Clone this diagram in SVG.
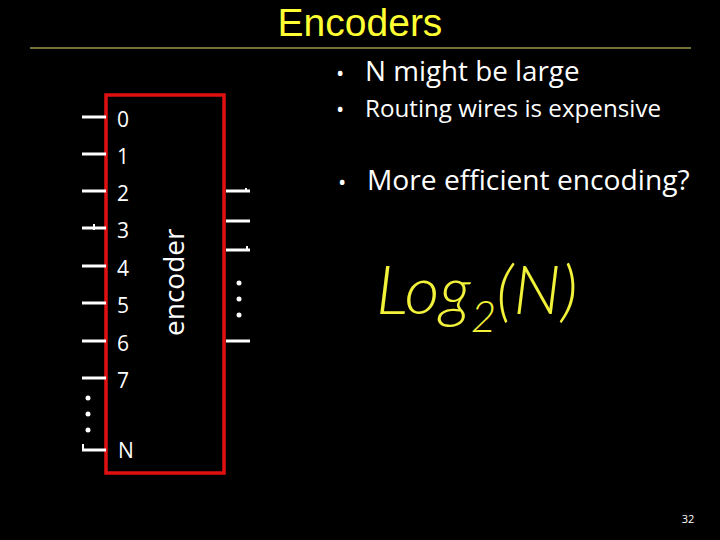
<svg xmlns="http://www.w3.org/2000/svg" width="720" height="540" viewBox="0 0 720 540">
<style>
.lbl{font-family:"Open Sans","Liberation Sans",sans-serif;fill:#fff}
.pin{stroke:#fff;stroke-width:3;fill:none}
.dot{fill:#fff}
.bul{font-family:"Open Sans","Liberation Sans",sans-serif;fill:#fff}
</style>
<rect x="0" y="0" width="720" height="540" fill="#000"/>
<g id="title">
<text x="360" y="36" text-anchor="middle" font-family="Liberation Sans, Arial, sans-serif" font-size="39" fill="#ffff33">Encoders</text>
<line x1="30" y1="48" x2="691" y2="48" stroke="#e8e070" stroke-width="1.2"/>
</g>
<g id="encoder">
<rect x="106" y="95" width="118" height="378" fill="none" stroke="#e01010" stroke-width="3.5"/>
<text class="lbl" font-size="28" transform="translate(184,336) rotate(-90)">encoder</text>
</g>
<g id="inputs">
<g class="pin">
<line x1="82" y1="117" x2="106" y2="117"/>
<line x1="82" y1="154" x2="106" y2="154"/>
<line x1="82" y1="191" x2="106" y2="191"/>
<line x1="82" y1="228" x2="106" y2="228"/>
<line x1="94" y1="224" x2="94" y2="230" stroke-width="2"/>
<line x1="82" y1="266" x2="106" y2="266"/>
<line x1="82" y1="303" x2="106" y2="303"/>
<line x1="82" y1="341" x2="106" y2="341"/>
<line x1="82" y1="378" x2="106" y2="378"/>
<line x1="82" y1="450" x2="106" y2="450"/>
<line x1="83" y1="444" x2="83" y2="450" stroke-width="2"/>
</g>
<circle class="dot" cx="88" cy="398" r="2.5"/>
<circle class="dot" cx="88" cy="414" r="2.5"/>
<circle class="dot" cx="88" cy="430" r="2.5"/>
<g class="lbl" font-size="21">
<text x="117" y="127">0</text>
<text x="117" y="164">1</text>
<text x="117" y="201">2</text>
<text x="117" y="238">3</text>
<text x="117" y="276">4</text>
<text x="117" y="313">5</text>
<text x="117" y="351">6</text>
<text x="117" y="388">7</text>
<text x="118" y="458">N</text>
</g>
</g>
<g id="outputs">
<g class="pin">
<line x1="226" y1="191" x2="250" y2="191"/>
<line x1="246" y1="188" x2="246" y2="192" stroke-width="2"/>
<line x1="226" y1="221" x2="250" y2="221"/>
<line x1="226" y1="250" x2="250" y2="250"/>
<line x1="247" y1="246" x2="247" y2="251" stroke-width="2"/>
<line x1="226" y1="341" x2="250" y2="341"/>
</g>
<circle class="dot" cx="239" cy="283" r="2.5"/>
<circle class="dot" cx="239" cy="299" r="2.5"/>
<circle class="dot" cx="239" cy="315" r="2.5"/>
</g>
<g id="bullets">
<text class="bul" x="336" y="81" font-size="22">•</text>
<text class="bul" x="365" y="81" font-size="27.8">N might be large</text>
<text class="bul" x="336" y="117" font-size="22">•</text>
<text class="bul" x="365" y="117" font-size="24.2">Routing wires is expensive</text>
<text class="bul" x="338" y="190" font-size="22">•</text>
<text class="bul" x="367" y="190" font-size="28.2">More efficient encoding?</text>
</g>
<g id="formula">
<text x="376" y="314" font-family="Lato, 'Open Sans', sans-serif" font-weight="300" font-style="italic" font-size="68" fill="#f2f23a">Log<tspan font-size="44" dy="18">2</tspan><tspan dy="-18">(N)</tspan></text>
</g>
<text x="688" y="523" text-anchor="middle" font-family="Open Sans, sans-serif" font-size="11" fill="#fff">32</text>
</svg>
